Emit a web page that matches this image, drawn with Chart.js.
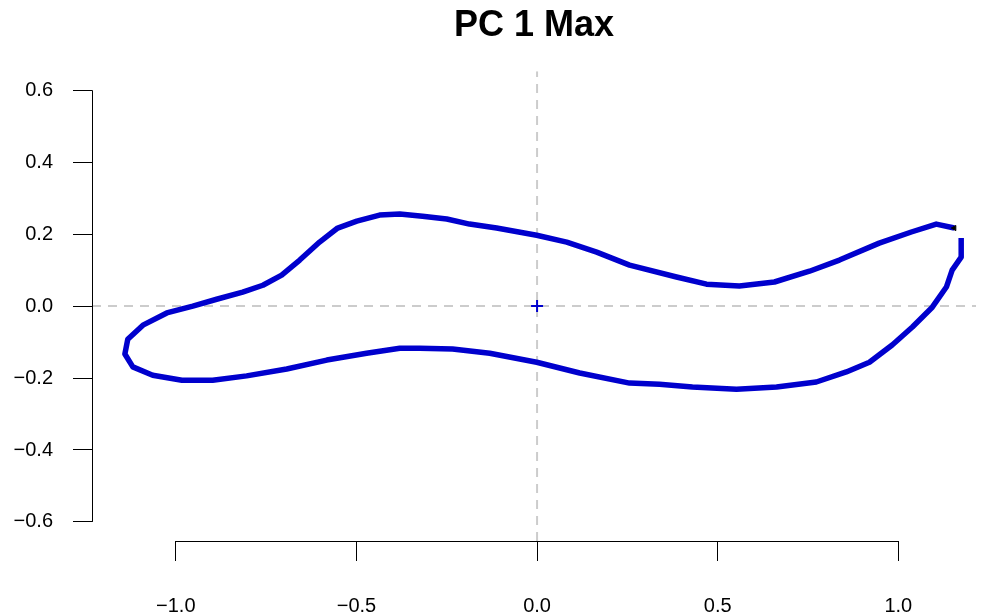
<!DOCTYPE html>
<html>
<head>
<meta charset="utf-8">
<script src="https://cdn.jsdelivr.net/npm/chart.js@4/dist/chart.umd.min.js"></script>
<style>
  body { margin: 0; background: #ffffff; }
  #wrap { width: 984px; height: 615px; }
</style>
</head>
<body>
<div id="wrap"><canvas id="myChart"></canvas></div>
<script>
// outline of the shape (PC 1 max), in drawing order
const outlineX = [1.155, 1.105, 1.036, 0.947, 0.837, 0.754, 0.657, 0.560, 0.469, 0.386,
  0.256, 0.165, 0.082, -0.001, -0.112, -0.187, -0.250, -0.317, -0.380, -0.436,
  -0.499, -0.552, -0.602, -0.657, -0.707, -0.759, -0.815, -0.887, -0.953, -1.025,
  -1.091, -1.133, -1.141, -1.119, -1.064, -0.983, -0.898, -0.804, -0.693, -0.582,
  -0.472, -0.380, -0.325, -0.234, -0.131, -0.001, 0.118, 0.256, 0.339, 0.430,
  0.552, 0.663, 0.773, 0.856, 0.920, 0.983, 1.039, 1.094, 1.133, 1.149,
  1.174, 1.174];
const outlineY = [0.217, 0.228, 0.206, 0.175, 0.128, 0.097, 0.067, 0.056, 0.061, 0.081,
  0.114, 0.150, 0.178, 0.197, 0.217, 0.228, 0.242, 0.250, 0.256, 0.253,
  0.236, 0.217, 0.178, 0.128, 0.086, 0.058, 0.039, 0.019, 0.000, -0.019,
  -0.053, -0.092, -0.133, -0.169, -0.192, -0.206, -0.206, -0.194, -0.175, -0.150,
  -0.131, -0.117, -0.117, -0.119, -0.131, -0.156, -0.186, -0.214, -0.217, -0.225,
  -0.231, -0.225, -0.211, -0.183, -0.156, -0.108, -0.058, -0.003, 0.053, 0.100,
  0.136, 0.189];

const centroid = [0, 0];
const xTicks = [-1.0, -0.5, 0.0, 0.5, 1.0];
const yTicks = [-0.6, -0.4, -0.2, 0.0, 0.2, 0.4, 0.6];
const xLimits = [-1.232, 1.215];
const yLimits = [-0.653, 0.653];

const blue = "#0000cd";
const fontFamily = "'Liberation Sans', Arial, Helvetica, sans-serif";

const outlinePoints = outlineX.map(function (x, i) {
  return { x: x, y: outlineY[i] };
});

function fmt(v) {
  return (v < 0 ? "\u2212" : "") + Math.abs(v).toFixed(1);
}

// R style axis lines that only span the tick range
const axisLines = {
  id: "axisLines",
  afterDraw(chart) {
    const ctx = chart.ctx;
    const xs = chart.scales.x;
    const ys = chart.scales.y;
    const area = chart.chartArea;
    ctx.save();
    ctx.strokeStyle = "#000000";
    ctx.lineWidth = 1;
    ctx.beginPath();
    const lx = Math.round(area.left) + 0.5;
    ctx.moveTo(lx, ys.getPixelForValue(yTicks[0]));
    ctx.lineTo(lx, ys.getPixelForValue(yTicks[yTicks.length - 1]));
    const by = Math.round(area.bottom) + 0.5;
    ctx.moveTo(xs.getPixelForValue(xTicks[0]), by);
    ctx.lineTo(xs.getPixelForValue(xTicks[xTicks.length - 1]), by);
    ctx.stroke();
    ctx.restore();
  },
};

const ctx = document.getElementById("myChart").getContext("2d");
const myChart = new Chart(ctx, {
  type: "scatter",
  data: {
    datasets: [
      {
        label: "outline",
        data: outlinePoints,
        showLine: true,
        borderColor: blue,
        borderWidth: 5.5,
        borderJoinStyle: "round",
        pointRadius: 0,
        tension: 0,
        order: 1,
      },
      {
        label: "start",
        data: [outlinePoints[0]],
        pointStyle: "triangle",
        rotation: 270,
        pointRadius: 3,
        pointBackgroundColor: "#000000",
        pointBorderColor: "#000000",
        pointBorderWidth: 1,
        order: 0,
      },
      {
        label: "centroid",
        data: [{ x: centroid[0], y: centroid[1] }],
        pointStyle: "cross",
        pointRadius: 6,
        pointBorderWidth: 2,
        pointBorderColor: blue,
        order: 0,
      },
      {
        label: "h0",
        data: [{ x: xLimits[0], y: 0 }, { x: xLimits[1], y: 0 }],
        showLine: true,
        borderColor: "#cccccc",
        borderWidth: 2,
        borderDash: [9, 7],
        pointRadius: 0,
        order: 5,
      },
      {
        label: "v0",
        data: [{ x: 0, y: yLimits[0] }, { x: 0, y: yLimits[1] }],
        showLine: true,
        borderColor: "#cccccc",
        borderWidth: 2,
        borderDash: [9, 7],
        pointRadius: 0,
        order: 5,
      },
    ],
  },
  options: {
    responsive: true,
    maintainAspectRatio: false,
    animation: false,
    layout: { padding: { left: 0, right: 0, top: 0, bottom: 0 } },
    plugins: {
      legend: { display: false },
      tooltip: { enabled: false },
      title: {
        display: true,
        text: "PC 1 Max",
        fullSize: false,
        color: "#000000",
        font: { family: fontFamily, size: 36, weight: "bold" },
        padding: { top: 4, bottom: 24 },
      },
    },
    scales: {
      x: {
        type: "linear",
        min: xLimits[0],
        max: xLimits[1],
        afterBuildTicks: function (scale) {
          scale.ticks = xTicks.map(function (v) { return { value: v }; });
        },
        afterFit: function (scale) {
          scale.height = 74;
        },
        border: { display: false },
        grid: {
          drawOnChartArea: false,
          drawTicks: true,
          tickLength: 20,
          color: "#000000",
          lineWidth: 1,
        },
        ticks: {
          color: "#000000",
          font: { family: fontFamily, size: 20 },
          padding: 33,
          maxRotation: 0,
          autoSkip: false,
          callback: function (v) { return fmt(v); },
        },
      },
      y: {
        type: "linear",
        min: yLimits[0],
        max: yLimits[1],
        afterBuildTicks: function (scale) {
          scale.ticks = yTicks.map(function (v) { return { value: v }; });
        },
        afterFit: function (scale) {
          scale.width = 92;
        },
        border: { display: false },
        grid: {
          drawOnChartArea: false,
          drawTicks: true,
          tickLength: 19,
          color: "#000000",
          lineWidth: 1,
        },
        ticks: {
          color: "#000000",
          font: { family: fontFamily, size: 20 },
          padding: 20,
          autoSkip: false,
          callback: function (v) { return fmt(v); },
        },
      },
    },
  },
  plugins: [axisLines],
});
</script>
</body>
</html>
